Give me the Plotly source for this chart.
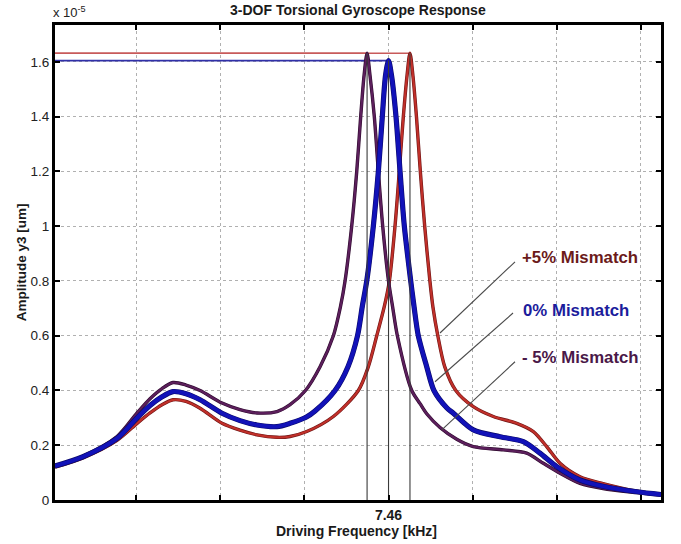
import plotly.graph_objects as go

# ---------------- data (frequency in kHz, amplitude in units of 1e-5 um) ----------------
freq_plus = [7.0634, 7.0967, 7.1372, 7.1610, 7.1764, 7.1907, 7.2038, 7.2192, 7.2359, 7.2620,
             7.2834, 7.3036, 7.3274, 7.3429, 7.3627, 7.3944, 7.4241, 7.4360, 7.4460, 7.4550,
             7.4610, 7.4677, 7.4728, 7.4776, 7.4820, 7.4855, 7.4890, 7.4932, 7.4978, 7.5030,
             7.5092, 7.5128, 7.5186, 7.5268, 7.5400, 7.5608, 7.5846, 7.6124, 7.6322, 7.6481,
             7.6639, 7.6877, 7.7151, 7.7555, 7.7840]
amp_plus = [0.120, 0.154, 0.218, 0.280, 0.318, 0.348, 0.366, 0.360, 0.335, 0.280,
            0.255, 0.238, 0.229, 0.232, 0.250, 0.305, 0.400, 0.487, 0.600, 0.707,
            0.800, 1.000, 1.200, 1.400, 1.550, 1.632, 1.550, 1.400, 1.200, 1.000,
            0.800, 0.705, 0.600, 0.487, 0.400, 0.341, 0.305, 0.280, 0.250, 0.195,
            0.134, 0.085, 0.060, 0.032, 0.020]

freq_zero = [7.0634, 7.0967, 7.1372, 7.1610, 7.1764, 7.1907, 7.2038, 7.2192, 7.2359, 7.2620,
             7.2834, 7.3036, 7.3274, 7.3429, 7.3619, 7.3726, 7.3964, 7.4118, 7.4231, 7.4288,
             7.4341, 7.4419, 7.4479, 7.4526, 7.4564, 7.4600, 7.4636, 7.4689, 7.4737, 7.4788,
             7.4864, 7.4903, 7.4954, 7.5054, 7.5140, 7.5292, 7.5371, 7.5608, 7.5926, 7.6203,
             7.6401, 7.6600, 7.6877, 7.7151, 7.7555, 7.7840]
amp_zero = [0.124, 0.158, 0.225, 0.300, 0.345, 0.377, 0.396, 0.388, 0.366, 0.317,
            0.290, 0.274, 0.268, 0.280, 0.302, 0.325, 0.400, 0.487, 0.600, 0.707,
            0.800, 1.000, 1.200, 1.400, 1.550, 1.605, 1.550, 1.400, 1.200, 1.000,
            0.800, 0.707, 0.600, 0.487, 0.400, 0.337, 0.317, 0.256, 0.231, 0.213,
            0.171, 0.122, 0.073, 0.050, 0.030, 0.020]

freq_minus = [7.0634, 7.0967, 7.1372, 7.1610, 7.1764, 7.1907, 7.2038, 7.2192, 7.2359, 7.2620,
              7.2834, 7.3036, 7.3274, 7.3429, 7.3607, 7.3786, 7.3944, 7.4029, 7.4083, 7.4162,
              7.4222, 7.4269, 7.4309, 7.4345, 7.4380, 7.4431, 7.4479, 7.4531, 7.4600, 7.4648,
              7.4705, 7.4876, 7.4975, 7.5054, 7.5212, 7.5411, 7.5608, 7.5965, 7.6243, 7.6441,
              7.6639, 7.6877, 7.7151, 7.7555, 7.7840]
amp_minus = [0.122, 0.160, 0.232, 0.318, 0.370, 0.407, 0.429, 0.420, 0.400, 0.354,
             0.330, 0.318, 0.323, 0.348, 0.398, 0.487, 0.600, 0.707, 0.800, 1.000,
             1.200, 1.400, 1.550, 1.632, 1.550, 1.400, 1.200, 1.000, 0.800, 0.707,
             0.600, 0.400, 0.352, 0.315, 0.265, 0.222, 0.195, 0.183, 0.171, 0.134,
             0.098, 0.061, 0.042, 0.027, 0.018]

series_names = ["+5% Mismatch", "0% Mismatch", "- 5% Mismatch"]

x_tick_vals = [7.16, 7.26, 7.36, 7.46, 7.56, 7.66, 7.76]
x_tick_text = ["", "", "", "7.46", "", "", ""]
y_tick_vals = [0, 0.2, 0.4, 0.6, 0.8, 1.0, 1.2, 1.4, 1.6]
y_tick_text = ["0", "0.2", "0.4", "0.6", "0.8", "1", "1.2", "1.4", "1.6"]

X_RANGE = [7.0634, 7.784]
Y_RANGE = [0, 1.735]

# label positions (data coords): text anchor and leader line (text end -> curve)
label_pos = [(7.6164, 0.884), (7.6176, 0.694), (7.6164, 0.519)]
leader_lines = [((7.6104, 0.870), (7.5212, 0.610)),
                ((7.6080, 0.683), (7.5153, 0.432)),
                ((7.6104, 0.505), (7.5233, 0.256))]

# ---------------- figure ----------------
fig = go.Figure()

styles = [
    dict(core="#c0302a", edge="#6e1414", w=2.2, hcol="#c85a5a", tcol="#6b1a1a"),
    dict(core="#1212b8", edge="#0a0a6a", w=4.0, hcol="#3030a8", tcol="#1c1c9c"),
    dict(core="#5c1f5c", edge="#2e0a2e", w=2.2, hcol="#c85a5a", tcol="#4a1848"),
]
data = [(freq_plus, amp_plus), (freq_zero, amp_zero), (freq_minus, amp_minus)]

# horizontal reference lines from left axis to each peak (minus first, hidden under plus)
for idx in [2, 1, 0]:
    fx, ay = data[idx]
    pk = max(range(len(ay)), key=lambda i: ay[i])
    fig.add_trace(go.Scatter(x=[X_RANGE[0], fx[pk]], y=[ay[pk], ay[pk]], mode="lines",
                             line=dict(color=styles[idx]["hcol"], width=1.6),
                             showlegend=False, hoverinfo="skip"))

# curves: plus, minus, zero (zero on top)
for idx in [0, 2, 1]:
    fx, ay = data[idx]
    st = styles[idx]
    fig.add_trace(go.Scatter(x=fx, y=ay, mode="lines",
                             line=dict(color=st["edge"], width=st["w"] + 1.2, shape="spline", smoothing=0.8),
                             showlegend=False, hoverinfo="skip"))
    fig.add_trace(go.Scatter(x=fx, y=ay, mode="lines", name=series_names[idx],
                             line=dict(color=st["core"], width=st["w"], shape="spline", smoothing=0.8),
                             showlegend=False))

# vertical lines from zero to each peak
for idx in [2, 1, 0]:
    fx, ay = data[idx]
    pk = max(range(len(ay)), key=lambda i: ay[i])
    fig.add_trace(go.Scatter(x=[fx[pk], fx[pk]], y=[0, ay[pk]], mode="lines",
                             line=dict(color="#3a3a3a", width=1.1),
                             showlegend=False, hoverinfo="skip"))

# leader lines
for (p0, p1) in leader_lines:
    fig.add_shape(type="line", xref="x", yref="y", x0=p0[0], y0=p0[1], x1=p1[0], y1=p1[1],
                  line=dict(color="#4a4a4a", width=1.1))

FONT = "Liberation Sans, Arial"
annotations = []
for name, (tx, ty), st in zip(series_names, label_pos, styles):
    annotations.append(dict(x=tx, y=ty, xref="x", yref="y", text="<b>" + name + "</b>", showarrow=False,
                            xanchor="left", yanchor="middle",
                            font=dict(family=FONT, size=16.8, color=st["tcol"])))

annotations += [
    dict(x=0.5, y=1.032, xref="paper", yref="paper", text="<b>3-DOF Torsional Gyroscope Response</b>",
         showarrow=False, xanchor="center", yanchor="middle",
         font=dict(family=FONT, size=14, color="#1a1a1a")),
    dict(x=-0.006, y=1.028, xref="paper", yref="paper", text="x 10<sup>-5</sup>",
         showarrow=False, xanchor="left", yanchor="middle",
         font=dict(family=FONT, size=13, color="#222222")),
    dict(x=-0.055, y=0.5, xref="paper", yref="paper", text="<b>Amplitude y3 [um]</b>", textangle=-90,
         showarrow=False, xanchor="center", yanchor="middle",
         font=dict(family=FONT, size=13.5, color="#1a1a1a")),
    dict(x=0.497, y=-0.065, xref="paper", yref="paper", text="<b>Driving Frequency [kHz]</b>",
         showarrow=False, xanchor="center", yanchor="middle",
         font=dict(family=FONT, size=14, color="#1a1a1a")),
]

fig.update_layout(
    width=681, height=544,
    margin=dict(l=55, r=20, t=25, b=44),
    paper_bgcolor="white", plot_bgcolor="white",
    showlegend=False,
    annotations=annotations,
    xaxis=dict(range=X_RANGE, tickvals=x_tick_vals, ticktext=x_tick_text,
               ticks="inside", ticklen=5, tickwidth=2, tickcolor="black",
               showline=True, linecolor="black", linewidth=3, mirror="ticks",
               showgrid=True, gridcolor="#b0b0b0", griddash="dot", gridwidth=1,
               zeroline=False,
               tickfont=dict(family=FONT, size=14, color="#1a1a1a", weight="bold")),
    yaxis=dict(range=Y_RANGE, tickvals=y_tick_vals, ticktext=y_tick_text,
               ticks="inside", ticklen=5, tickwidth=2, tickcolor="black",
               showline=True, linecolor="black", linewidth=3, mirror="ticks",
               showgrid=True, gridcolor="#b0b0b0", griddash="dot", gridwidth=1,
               zeroline=False,
               tickfont=dict(family=FONT, size=13.5, color="#222222")),
)

# remove the browser's default 8px body margin so the figure sits at the page origin
fig.write_html("out.html",
               config={"displayModeBar": False},
               post_script="document.body.style.margin='0';document.body.style.overflow='hidden';")
